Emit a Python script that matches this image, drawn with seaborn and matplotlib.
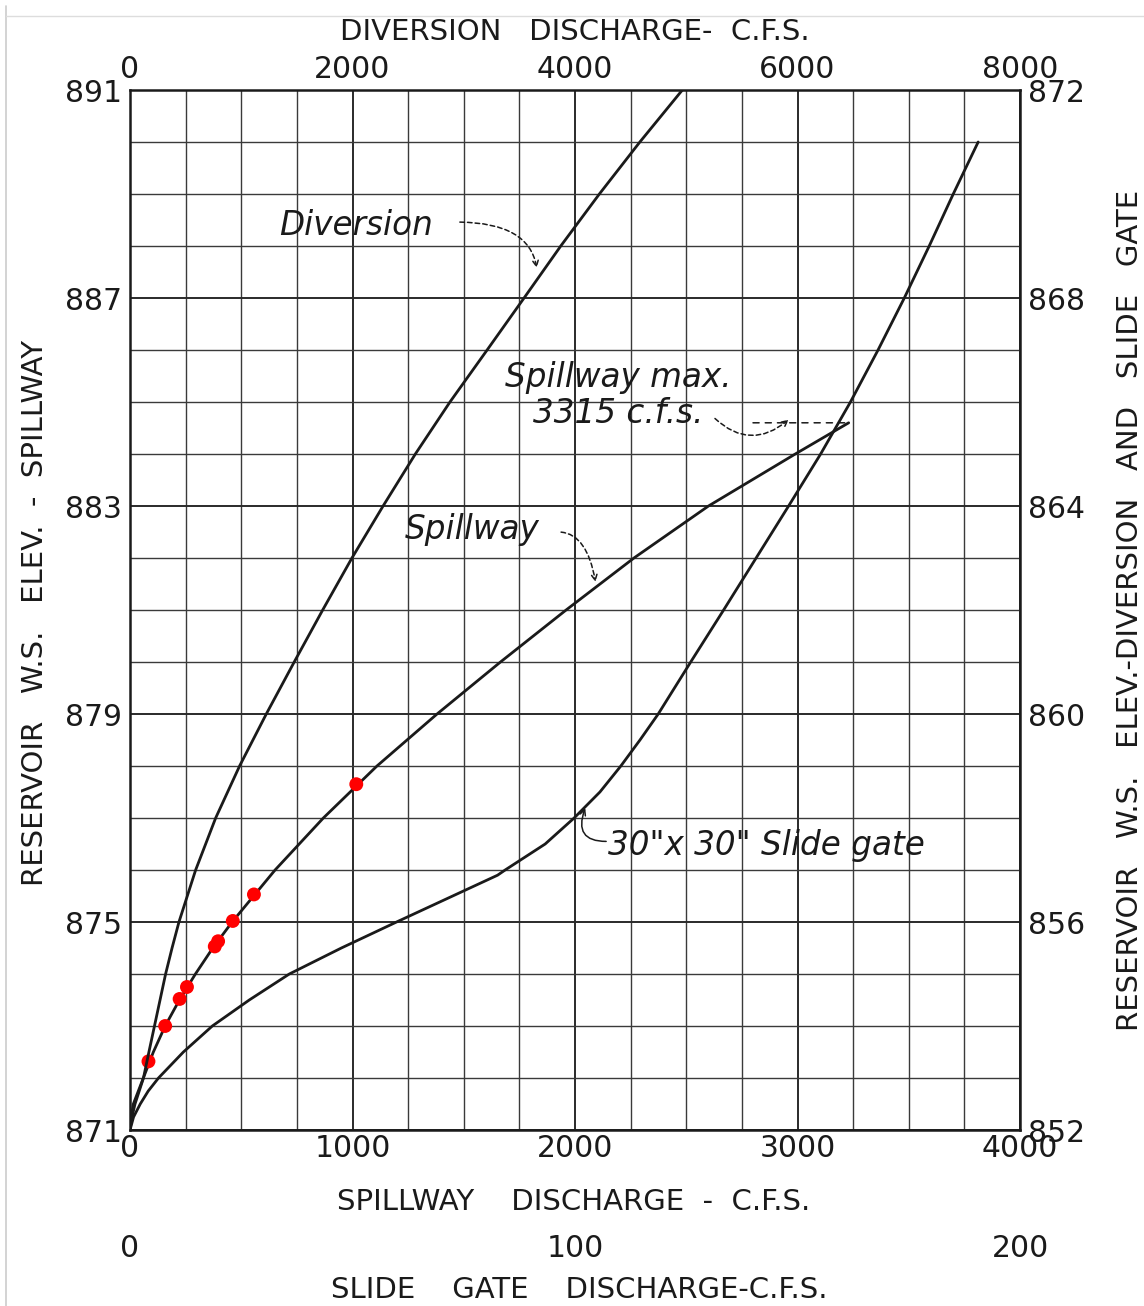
import numpy as np
import matplotlib
matplotlib.use("Agg")
import matplotlib.pyplot as plt
import seaborn as sns
from matplotlib.lines import Line2D

# spillway rating: left elevation (ft) vs spillway discharge (c.f.s.)
spill_elev = [871, 871.25, 871.5, 872, 872.5, 873, 873.5, 874, 874.5, 875, 876, 877, 878, 879,
              880, 881, 882, 883, 884, 884.6]
spill_cfs = [0, 5, 15, 60, 105, 158, 222, 294, 372, 459, 652, 869, 1110, 1380,
             1665, 1960, 2265, 2600, 2990, 3230]

# observed points (red) on spillway curve
obs_cfs = [83, 158, 223, 256, 381, 396, 462, 557, 1017]
obs_elev = [872.32, 873.00, 873.52, 873.75, 874.53, 874.63, 875.02, 875.53, 877.65]

# diversion rating: right elevation vs diversion discharge
div_elev = [852, 852.25, 852.5, 853, 853.5, 854, 854.5, 855, 855.5, 856, 857, 858, 859, 860,
            861, 862, 863, 864, 865, 866, 867, 868, 869, 870, 871, 872]
div_cfs = [0, 18, 45, 121, 170, 220, 270, 320, 378, 440, 590, 770, 985, 1225,
           1476, 1732, 1995, 2275, 2565, 2876, 3210, 3542, 3872, 4219, 4583, 4965]

# 30"x30" slide gate rating: right elevation vs slide gate discharge
gate_elev = [852, 852.25, 852.5, 852.75, 853, 853.5, 854, 854.5, 855, 855.5, 856, 856.9, 857,
             857.5, 858, 858.5, 859, 859.5, 860, 861, 862, 863, 864, 865, 866, 867, 868,
             869, 870, 871]
gate_cfs = [0, 0.8, 2.3, 4.1, 6.4, 12.0, 18.5, 26.8, 35.8, 47.5, 59.9, 82.6, 84.3,
            93.3, 99.8, 105.6, 110.3, 114.6, 118.7, 126.0, 133.4, 140.7, 148.0, 155.2,
            161.9, 168.1, 174.0, 179.6, 185.0, 190.6]

spill_ticks = [0, 1000, 2000, 3000, 4000]
div_ticks = [0, 2000, 4000, 6000, 8000]
gate_ticks = [0, 100, 200]
left_ticks = [871, 875, 879, 883, 887, 891]
right_ticks = [852, 856, 860, 864, 868, 872]

sns.set_style("white")
plt.rcParams['font.family'] = ['DejaVu Sans']
plt.rcParams['lines.solid_joinstyle'] = 'round'

W, H = 1144, 1306
fig = plt.figure(figsize=(W / 100, H / 100), dpi=100)
rect = [130 / W, 1 - 1130 / H, (1020 - 130) / W, (1130 - 90) / H]

ink = '#1a1a1a'
tick_fs = 21.5

# main axes: spillway
ax = fig.add_axes(rect)
ax.set_xlim(0, 4000)
ax.set_ylim(871, 891)
ax.set_xticks(spill_ticks)
ax.set_xticks(np.arange(0, 4001, 250), minor=True)
ax.set_yticks(left_ticks)
ax.set_yticks(np.arange(871, 892, 1), minor=True)
ax.grid(True, which='major', color='#2a2a2a', lw=1.4)
ax.grid(True, which='minor', color='#3a3a3a', lw=1.0)
ax.tick_params(which='both', length=0, labelsize=tick_fs, colors=ink)
ax.tick_params(axis='x', pad=3)
ax.tick_params(axis='y', pad=6)
for s in ax.spines.values():
    s.set_color(ink)
    s.set_linewidth(1.8)

sns.lineplot(x=spill_cfs, y=spill_elev, ax=ax, color=ink, lw=2.0, sort=False, estimator=None)
sns.scatterplot(x=obs_cfs, y=obs_elev, ax=ax, color='#ff0000', s=100, edgecolor='none', zorder=5)

# diversion axes (top / right)
axd = fig.add_axes(rect)
axd.patch.set_alpha(0)
axd.set_xlim(0, 8000)
axd.set_ylim(852, 872)
axd.xaxis.tick_top()
axd.yaxis.tick_right()
axd.set_xticks(div_ticks)
axd.set_yticks(right_ticks)
axd.tick_params(length=0, labelsize=tick_fs, colors=ink)
axd.tick_params(axis='x', pad=4)
axd.tick_params(axis='y', pad=6)
for s in axd.spines.values():
    s.set_visible(False)
axd.grid(False)
sns.lineplot(x=div_cfs, y=div_elev, ax=axd, color=ink, lw=2.0, sort=False, estimator=None)

# slide gate axes (second bottom scale)
axs = fig.add_axes(rect)
axs.patch.set_alpha(0)
axs.set_xlim(0, 200)
axs.set_ylim(852, 872)
axs.set_xticks(gate_ticks)
axs.set_yticks([])
for k, s in axs.spines.items():
    s.set_color('none')
axs.spines['bottom'].set_position(('axes', -0.097))
axs.tick_params(length=0, labelsize=tick_fs, colors=ink, pad=2)
axs.grid(False)
sns.lineplot(x=gate_cfs, y=gate_elev, ax=axs, color=ink, lw=2.0, sort=False, estimator=None)

for a in (ax, axd, axs):
    a.set_xlabel('')
    a.set_ylabel('')

# axis titles
lab_fs = 21
fig.text(575 / W, 1 - 32 / H, 'DIVERSION   DISCHARGE-  C.F.S.', ha='center', va='center',
         fontsize=lab_fs, color=ink)
fig.text(574 / W, 1 - 1202 / H, 'SPILLWAY    DISCHARGE  -  C.F.S.', ha='center', va='center',
         fontsize=lab_fs, color=ink)
fig.text(579 / W, 1 - 1290 / H, 'SLIDE    GATE    DISCHARGE-C.F.S.', ha='center', va='center',
         fontsize=lab_fs, color=ink)
fig.text(35 / W, 1 - 613 / H, 'RESERVOIR   W.S.   ELEV.  -  SPILLWAY', ha='center', va='center',
         rotation=90, fontsize=lab_fs, color=ink)
fig.text(1130 / W, 1 - 610 / H, 'RESERVOIR   W.S.   ELEV.-DIVERSION   AND   SLIDE   GATE',
         ha='center', va='center', rotation=90, fontsize=lab_fs, color=ink)

# curve labels with dashed leaders
note_fs = 23.5
lead = dict(arrowstyle='->', color=ink, lw=1.1, ls=(0, (3, 2)), shrinkA=2, shrinkB=0)

ax.text(668, 888.4, 'Diversion', fontsize=note_fs, style='italic', color=ink, va='center')
ax.annotate('', xy=(1828, 887.58), xytext=(1470, 888.46),
            arrowprops=dict(lead, connectionstyle='angle3,angleA=0,angleB=100'))

ax.text(2195, 885.13, 'Spillway max.\n3315 c.f.s.', fontsize=note_fs, style='italic',
        color=ink, ha='center', va='center', linespacing=1.1)
ax.annotate('', xy=(2960, 884.66), xytext=(2620, 884.72),
            arrowprops=dict(lead, connectionstyle='arc3,rad=0.45'))
ax.annotate('', xy=(spill_cfs[-1], spill_elev[-1]), xytext=(2800, spill_elev[-1]),
            arrowprops=dict(arrowstyle='-', color=ink, lw=1.1, ls=(0, (4, 4)),
                            shrinkA=0, shrinkB=0))

ax.text(1237, 882.54, 'Spillway', fontsize=note_fs, style='italic', color=ink, va='center')
ax.annotate('', xy=(2092, 881.54), xytext=(1925, 882.5),
            arrowprops=dict(lead, connectionstyle='angle3,angleA=0,angleB=100'))

ax.text(2150, 876.48, '30"x 30" Slide gate', fontsize=note_fs, style='italic', color=ink,
        va='center')
ax.annotate('', xy=(2046, 877.19), xytext=(2140, 876.55),
            arrowprops=dict(arrowstyle='->', color=ink, lw=1.1,
                            connectionstyle='angle3,angleA=180,angleB=70',
                            shrinkA=0, shrinkB=0))

# scan border
fig.add_artist(Line2D([6 / W, 6 / W], [0, 1 - 6 / H], color='#cccccc', lw=1.2))
fig.add_artist(Line2D([6 / W, 1], [1 - 16 / H, 1 - 16 / H], color='#dddddd', lw=1.0))

fig.savefig('out.png', dpi=100, facecolor='white')
